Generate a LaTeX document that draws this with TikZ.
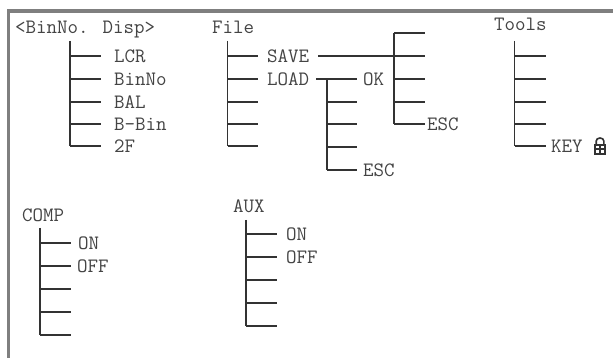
\documentclass[tikz,border=0pt]{standalone}
\usepackage{fontspec}
\usetikzlibrary{calc}
\definecolor{ink}{HTML}{333333}
\definecolor{txt}{HTML}{444444}
\definecolor{bar}{HTML}{7F7F7F}
\tikzset{
  lab/.style={anchor=base west,inner sep=0pt,outer sep=0pt,text=txt,yshift=-6.5pt,
    font=\ttfamily\fontsize{20.4}{21}\selectfont},
  wire/.style={draw=ink,line width=1.5pt},
  spine/.style={draw=ink,line width=1.8pt},
  edgebar/.style={draw=bar,line width=3.2pt},
  lockbody/.style={fill=ink,draw=none},
  lockarc/.style={draw=ink,line width=1.6pt}
}
% \branchtree{prefix}{spine x}{spine top y}{branch right x}{y1}{y2}{y3}{y4}{y5}
\newcommand{\branchtree}[9]{%
  \coordinate (#1top) at (#2,#3);
  \coordinate (#1bot) at (#2,#9);
  \draw[spine] (#1top) -- (#1bot);
  \foreach \k/\yy in {1/#5,2/#6,3/#7,4/#8,5/#9}{
    \coordinate (#1j\k) at (#2,\yy);
    \coordinate (#1e\k) at (#4,\yy);
    \draw[wire] (#1j\k) -- (#1e\k);
  }%
}
\begin{document}
\begin{tikzpicture}[x=1pt,y=-1pt]
\useasboundingbox[fill=white] (0,0) rectangle (613,358);
\coordinate (cornerTL) at (8.5,11);
\coordinate (cornerTR) at (613,11);
\coordinate (cornerBL) at (8.5,358);
\draw[edgebar] (cornerBL) -- (cornerTL) -- (cornerTR);

% BinNo. Disp
\node[lab] (tbin) at (15,27) {<BinNo. Disp>};
\branchtree{a}{70}{41}{101}{56}{79}{102}{124}{146}
\node[lab] (alcr) at (114,56) {LCR};
\node[lab] (abinno) at (114,79) {BinNo};
\node[lab] (abal) at (114,102) {BAL};
\node[lab] (abbin) at (114,124) {B-Bin};
\node[lab] (a2f) at (114,146) {2F};

% File
\node[lab] (tfile) at (212,27) {File};
\branchtree{b}{227.5}{41}{258}{56}{79}{102}{124}{146}
\node[lab] (bsave) at (267,56) {SAVE};
\node[lab] (bload) at (267,79) {LOAD};

% LOAD subtree
\branchtree{c}{327}{79}{357}{79}{102}{124}{147}{170}
\coordinate (cin) at (316,79);
\draw[wire] (cin) -- (cj1);
\node[lab] (cok) at (363,79) {OK};
\node[lab] (cesc) at (363,170) {ESC};

% SAVE subtree
\branchtree{d}{394}{33}{425}{33}{56}{79}{102}{124}
\coordinate (din) at (318,56);
\draw[wire] (din) -- (dj2);
\node[lab] (desc) at (427,124) {ESC};

% Tools
\node[lab] (ttools) at (494,24) {Tools};
\branchtree{e}{514.5}{41}{546}{56}{79}{102}{124}{146}
\node[lab] (ekey) at (551,146) {KEY};
\coordinate (lock) at (600,147);
\fill[lockbody] ($(lock)+(-6,-3)$) rectangle ($(lock)+(6,8)$);
\draw[lockarc] ($(lock)+(-3.8,-3)$) -- ($(lock)+(-3.8,-6)$) arc[start angle=180,end angle=0,x radius=3.8,y radius=-3] -- ($(lock)+(3.8,-3)$);
\fill[white] ($(lock)+(-4,-0.8)$) rectangle ($(lock)+(-1,1.4)$);
\fill[white] ($(lock)+(1,-0.8)$) rectangle ($(lock)+(4,1.4)$);
\fill[white] ($(lock)+(-4,3.2)$) rectangle ($(lock)+(-1,5.6)$);
\fill[white] ($(lock)+(1,3.2)$) rectangle ($(lock)+(4,5.6)$);

% COMP
\node[lab] (tcomp) at (22,215) {COMP};
\branchtree{f}{40}{228}{71}{243}{266}{289}{312}{335}
\node[lab] (fon) at (78,243) {ON};
\node[lab] (foff) at (77,266) {OFF};

% AUX
\node[lab] (taux) at (233,206) {AUX};
\branchtree{g}{246}{220}{277}{234}{257}{280}{303}{326}
\node[lab] (gon) at (286,234) {ON};
\node[lab] (goff) at (286,257) {OFF};
\end{tikzpicture}
\end{document}
